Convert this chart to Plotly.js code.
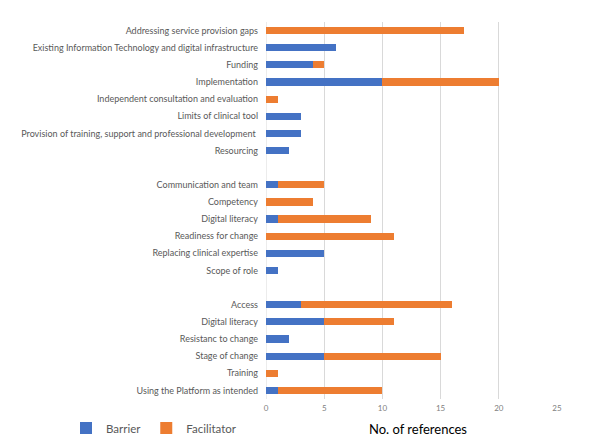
<!DOCTYPE html>
<html>
<head>
<meta charset="utf-8">
<script src="https://cdn.plot.ly/plotly-3.0.1.min.js"></script>
<style>html,body{margin:0;padding:0;background:#fff;}#chart{width:608px;height:447px;}</style>
</head>
<body>
<div id="chart"></div>
<script>
// Categories top to bottom; empty strings are blank separator rows
const categories = [
  "Addressing service provision gaps",
  "Existing Information Technology and digital infrastructure",
  "Funding",
  "Implementation",
  "Independent consultation and evaluation",
  "Limits of clinical tool",
  "Provision of training, support and professional development ",
  "Resourcing",
  "",
  "Communication and team",
  "Competency",
  "Digital literacy",
  "Readiness for change",
  "Replacing clinical expertise",
  "Scope of role",
  "",
  "Access",
  "Digital literacy",
  "Resistanc to change",
  "Stage of change",
  "Training",
  "Using the Platform as intended"
];
const barrier =     [0, 6, 4, 10, 0, 3, 3, 2, null, 1, 0, 1, 0, 5, 1, null, 3, 5, 2, 5, 0, 1];
const facilitator = [17, 0, 1, 10, 1, 0, 0, 0, null, 4, 4, 8, 11, 0, 0, null, 13, 6, 0, 10, 1, 9];
const xTicks = [0, 5, 10, 15, 20, 25];
const xTitle = "No. of references";

const rowIdx = categories.map((c, i) => i);
const font = "Lato, 'Open Sans', sans-serif";

const traces = [
  {type: "bar", orientation: "h", name: "Barrier", x: barrier, y: rowIdx,
   marker: {color: "#4472C4"}, width: 0.42},
  {type: "bar", orientation: "h", name: "Facilitator", x: facilitator, y: rowIdx,
   marker: {color: "#ED7D31"}, width: 0.42}
];

const layout = {
  width: 608, height: 447,
  margin: {l: 266, r: 51, t: 22, b: 48, autoexpand: false},
  barmode: "stack",
  paper_bgcolor: "#fff", plot_bgcolor: "#fff",
  font: {family: font, color: "#595959", size: 9},
  showlegend: true,
  legend: {orientation: "h", xref: "container", yref: "container",
           x: 66 / 608, xanchor: "left", y: (447 - 428) / 447, yanchor: "middle",
           font: {size: 11.5, color: "#595959"}, traceorder: "normal"},
  xaxis: {range: [0, 25], tickvals: xTicks, ticktext: xTicks.map(String),
          showgrid: true, gridcolor: "#d9d9d9", gridwidth: 1, zeroline: false,
          showline: false, ticks: "", tickfont: {size: 8, color: "#808080"},
          ticklabelstandoff: 3, automargin: false, fixedrange: true},
  yaxis: {range: [21.5, -0.5], tickmode: "array", tickvals: rowIdx, ticktext: categories,
          showgrid: false, zeroline: false, showline: false, ticks: "",
          tickfont: {size: 9, color: "#595959"}, ticklabelstandoff: 7,
          automargin: false, fixedrange: true},
  annotations: [{text: xTitle, xref: "paper", yref: "paper", x: 0.522, y: -30 / 377,
                 xanchor: "center", yanchor: "middle", showarrow: false,
                 font: {size: 13, color: "#000"}}],
  shapes: [{type: "line", xref: "x", yref: "paper", x0: 0, x1: 0, y0: 0, y1: 1,
            line: {color: "#d9d9d9", width: 1}, layer: "below"}]
};

Plotly.newPlot("chart", traces, layout, {displayModeBar: false, staticPlot: true});
</script>
</body>
</html>
